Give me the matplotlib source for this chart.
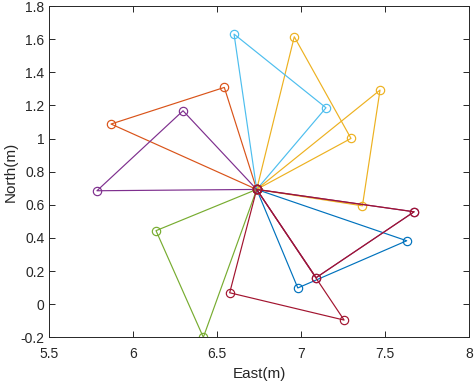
import matplotlib
matplotlib.use("Agg")
import matplotlib.pyplot as plt
from matplotlib.ticker import FuncFormatter

# common vertex shared by every triangle
CENTER = (6.736, 0.693)

# the two outer vertices of each triangle (east, north) and its colour
TRI_EAST = [
    (6.981, 7.630),
    (5.868, 6.543),
    (6.960, 7.298),
    (5.784, 6.297),
    (6.136, 6.418),
    (6.601, 7.149),
    (6.575, 7.257),
    (7.471, 7.366),
    (7.674, 7.090),
    (7.674, 7.090),
]
TRI_NORTH = [
    (0.098, 0.383),
    (1.088, 1.309),
    (1.615, 1.001),
    (0.685, 1.168),
    (0.444, -0.200),
    (1.631, 1.186),
    (0.069, -0.096),
    (1.293, 0.594),
    (0.558, 0.160),
    (0.558, 0.160),
]
TRI_COLORS = [
    "#0072BD", "#D95319", "#EDB120", "#7E2F8E", "#77AC30",
    "#4DBEEE", "#A2142F", "#EDB120", "#7E2F8E", "#A2142F",
]

X_TICKS = [5.5, 6, 6.5, 7, 7.5, 8]
Y_TICKS = [-0.2, 0, 0.2, 0.4, 0.6, 0.8, 1, 1.2, 1.4, 1.6, 1.8]


def fmt(v, _pos):
    return f"{v:g}"


def main():
    plt.rcParams["font.family"] = ["Liberation Sans", "DejaVu Sans"]
    fig = plt.figure(figsize=(4.74, 3.82), dpi=100)
    ax = fig.add_axes([0.104, 0.117, 0.885, 0.867])

    cx, cy = CENTER
    for (e1, e2), (n1, n2), c in zip(TRI_EAST, TRI_NORTH, TRI_COLORS):
        ax.plot([cx, e1, e2, cx], [cy, n1, n2, cy], color=c, linewidth=0.85,
                marker="o", markersize=6, markerfacecolor="none",
                markeredgewidth=0.85)

    ax.set_xlim(5.5, 8)
    ax.set_ylim(-0.2, 1.8)
    ax.set_xticks(X_TICKS)
    ax.set_yticks(Y_TICKS)
    ax.xaxis.set_major_formatter(FuncFormatter(fmt))
    ax.yaxis.set_major_formatter(FuncFormatter(fmt))
    ax.tick_params(direction="in", length=4, width=0.7, colors="#262626",
                   labelsize=10, top=True, right=True)
    ax.tick_params(axis="x", pad=7)
    for s in ax.spines.values():
        s.set_color("#262626")
        s.set_linewidth(0.7)
    ax.set_xlabel("East(m)", fontsize=11, color="#262626", labelpad=4)
    ax.set_ylabel("North(m)", fontsize=11, color="#262626", labelpad=2)

    fig.savefig("out.png", dpi=100)
    plt.close(fig)


if __name__ == "__main__":
    main()
